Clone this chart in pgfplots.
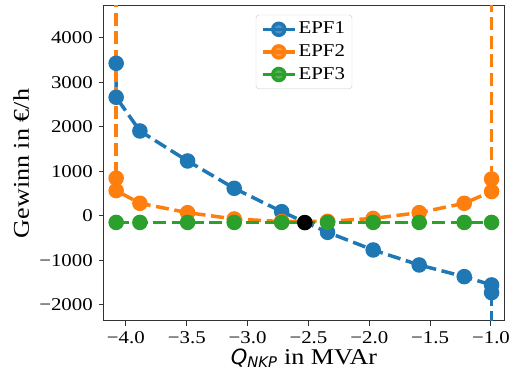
\documentclass[border=0pt]{standalone}
\usepackage{pgfplots}
\pgfplotsset{compat=1.18}
\usepackage{fontspec}
\setmainfont{Liberation Serif}[FakeStretch=1.16]
\newfontfamily\qfont{DejaVu Sans}

\definecolor{c1}{HTML}{1F77B4}
\definecolor{c2}{HTML}{FF7F0E}
\definecolor{c3}{HTML}{2CA02C}

\newcommand{\tl}[1]{\textrm{#1}}

\begin{document}
\fontsize{18}{21.6}\selectfont
\begin{tikzpicture}
\useasboundingbox (-104pt,-50pt) rectangle (414pt,321pt);
\begin{axis}[
  scale only axis,
  width=400pt, height=315pt,
  xmin=-4.18, xmax=-0.893,
  ymin=-2360, ymax=4719,
  xtick={-4,-3.5,-3,-2.5,-2,-1.5,-1},
  xticklabels={\tl{−4.0},\tl{−3.5},\tl{−3.0},\tl{−2.5},\tl{−2.0},\tl{−1.5},\tl{−1.0}},
  ytick={-2000,-1000,0,1000,2000,3000,4000},
  yticklabels={\tl{−2000},\tl{−1000},\tl{0},\tl{1000},\tl{2000},\tl{3000},\tl{4000}},
  tick align=outside,
  xtick pos=left, ytick pos=left,
  major tick length=5pt,
  every tick/.style={black!80, line width=1pt},
  axis line style={black!80, line width=1pt},
  tick label style={font=\fontsize{18}{21.6}\selectfont},
  xticklabel style={yshift=1pt},
  label style={font=\fontsize{22.5}{27}\selectfont},
  xlabel={{\qfont\itshape\fontsize{21}{25}\selectfont Q\textsubscript{NKP}}\rmfamily\ in MVAr},
  ylabel={Gewinn in €/h},
  xlabel style={yshift=7pt},
  ylabel style={yshift=-2pt},
  legend style={at={(0.5,0.972)}, anchor=north, draw=black!20,
    rounded corners=3pt, fill=white, fill opacity=0.8, text opacity=1,
    font=\fontsize{18}{21.6}\selectfont,
    inner xsep=5pt, inner ysep=5pt,
    row sep=4pt},
  legend cell align=left,
  legend image code/.code={%
    \draw[#1, solid, mark=none] (0pt,0pt) -- (32pt,0pt);
    \draw[#1, solid] plot coordinates {(16pt,0pt)};
  },
  every axis plot/.append style={line width=3.5pt, dash pattern=on 13pt off 5.6pt,
    mark=*, mark size=6pt, mark options={solid}},
]
% EPF1
\addplot[c1] coordinates {
  (-4.08,3431) (-4.08,2667) (-3.885,1910) (-3.493,1236) (-3.11,622)
  (-2.72,97) (-2.343,-367) (-1.968,-764) (-1.59,-1101) (-1.22,-1363)
  (-0.995,-1550) (-0.995,-1723)
};
\addlegendentry{EPF1}
% EPF2
\addplot[c2] coordinates {
  (-4.08,850) (-4.08,570) (-3.885,285) (-3.493,75) (-3.11,-67)
  (-2.72,-125) (-2.343,-120) (-1.968,-55) (-1.59,75) (-1.22,285)
  (-0.995,550) (-0.995,831)
};
\addlegendentry{EPF2}
% EPF3
\addplot[c3] coordinates {
  (-4.08,-145) (-3.885,-145) (-3.493,-145) (-3.11,-145)
  (-2.72,-145) (-2.343,-145) (-1.968,-145) (-1.59,-145) (-1.22,-145)
  (-0.995,-145)
};
\addlegendentry{EPF3}
% unbounded branches at the interval ends
\addplot[c1, mark=none, forget plot] coordinates {(-0.995,-1723) (-0.995,-10000)};
\addplot[c2, mark=none, forget plot] coordinates {(-4.08,10000) (-4.08,850)};
\addplot[c2, mark=none, forget plot] coordinates {(-0.995,831) (-0.995,10000)};
% optimum
\addplot[black, only marks, forget plot] coordinates {(-2.53,-148)};
\end{axis}
\end{tikzpicture}
\end{document}
